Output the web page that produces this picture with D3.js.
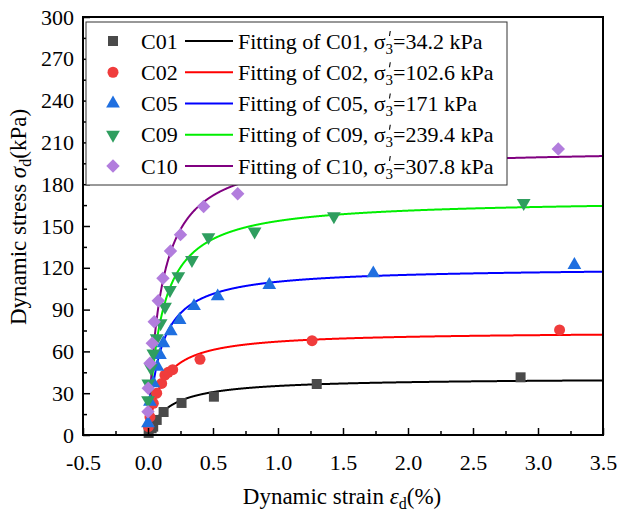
<!DOCTYPE html>
<html>
<head>
<meta charset="utf-8">
<script src="https://cdn.jsdelivr.net/npm/d3@7"></script>
<style>
  html, body { margin: 0; padding: 0; background: #fff; }
  svg { display: block; }
  svg text { font-family: "Liberation Serif", "Times New Roman", serif; fill: #000; }
</style>
</head>
<body>
<svg id="chart" width="618" height="513"></svg>
<script>
// Dynamic stress–strain measurements for each specimen
const seriesNames = ["C01", "C02", "C05", "C09", "C10"];
const confining = ["34.2", "102.6", "171", "239.4", "307.8"];

const strainC01 = [0.005, 0.028, 0.04, 0.067, 0.12, 0.258, 0.507, 1.298, 2.866];
const stressC01 = [1.5, 4.8, 6, 10.8, 16.5, 23.0, 27.5, 36.6, 41.4];

const strainC02 = [0.003, 0.015, 0.041, 0.067, 0.105, 0.13, 0.155, 0.19, 0.40, 1.262, 3.166];
const stressC02 = [6, 13, 22.7, 30, 37, 43, 45, 46.9, 54.3, 67.7, 75.4];

const strainC05 = [0.0, 0.015, 0.041, 0.072, 0.092, 0.118, 0.175, 0.243, 0.354, 0.536, 0.933, 1.733, 3.28];
const stressC05 = [8.4, 23.9, 37.1, 49, 57.4, 65.8, 74.5, 82.5, 92.5, 99.5, 107.7, 116.0, 122.0];

const strainC09 = [0.0, 0.002, 0.023, 0.041, 0.067, 0.097, 0.131, 0.169, 0.233, 0.338, 0.465, 0.82, 1.43, 2.89];
const stressC09 = [25, 37, 48, 58.6, 69.4, 80.2, 92, 104, 114, 125.6, 142, 146, 157, 166.5];

const strainC10 = [0.0, 0.002, 0.015, 0.033, 0.048, 0.079, 0.115, 0.173, 0.25, 0.428, 0.69, 3.156];
const stressC10 = [16.7, 33.5, 51.5, 65.8, 81.3, 96.4, 112.5, 132, 143.8, 164, 173.2, 205.3];

// Hyperbolic fit parameters: sigma = eps / (a + b * eps)
const fitA = [0.00406, 0.00145, 0.000783, 0.0006, 0.00048];
const fitB = [0.02435, 0.01347, 0.008308, 0.00591, 0.004858];

const xTicks = [-0.5, 0.0, 0.5, 1.0, 1.5, 2.0, 2.5, 3.0, 3.5];
const yTicks = [0, 30, 60, 90, 120, 150, 180, 210, 240, 270, 300];

const markerColors = ["#4a4a4a", "#f03c3c", "#1f6fe0", "#2f9e5f", "#b27ddd"];
const lineColors = ["#000000", "#ff0000", "#0000ff", "#00ee00", "#800080"];
const markerShapes = ["square", "circle", "triangleUp", "triangleDown", "diamond"];

const strains = [strainC01, strainC02, strainC05, strainC09, strainC10];
const stresses = [stressC01, stressC02, stressC05, stressC09, stressC10];

const svg = d3.select("#chart");
const plotLeft = 83, plotRight = 603, plotTop = 17, plotBottom = 435;
const serif = "Liberation Serif, Times New Roman, serif";

const x = d3.scaleLinear().domain([-0.5, 3.5]).range([plotLeft, plotRight]);
const y = d3.scaleLinear().domain([0, 300]).range([plotBottom, plotTop]);

function symbolPath(shape) {
  switch (shape) {
    case "square": return d3.symbol(d3.symbolSquare, 100)();
    case "circle": return d3.symbol(d3.symbolCircle, 95)();
    case "triangleUp": return d3.symbol(d3.symbolTriangle, 82)();
    case "triangleDown": return d3.symbol(d3.symbolTriangle, 82)();
    case "diamond": return d3.symbol(d3.symbolSquare, 90)();
  }
}
function symbolRotate(shape) {
  if (shape === "triangleDown") return " rotate(180)";
  if (shape === "diamond") return " rotate(45)";
  return "";
}

const plot = svg.append("g");
const clipId = "plotclip";
svg.append("clipPath").attr("id", clipId)
  .append("rect").attr("x", plotLeft).attr("y", plotTop)
  .attr("width", plotRight - plotLeft).attr("height", plotBottom - plotTop);

// fitted curves
const curveEps = d3.range(0, 3.5001, 0.002);
seriesNames.forEach((name, i) => {
  const pts = curveEps.map(e => [e, e / (fitA[i] + fitB[i] * e)]);
  plot.append("path")
    .attr("clip-path", `url(#${clipId})`)
    .attr("d", d3.line().x(d => x(d[0])).y(d => y(d[1]))(pts))
    .attr("fill", "none")
    .attr("stroke", lineColors[i])
    .attr("stroke-width", 2);
});

// measured points
seriesNames.forEach((name, i) => {
  const shape = markerShapes[i];
  plot.append("g").selectAll("path")
    .data(strains[i].map((e, k) => [e, stresses[i][k]]))
    .join("path")
    .attr("d", symbolPath(shape))
    .attr("transform", d => `translate(${x(d[0])},${y(d[1])})${symbolRotate(shape)}`)
    .attr("fill", markerColors[i]);
});

// axes with inward ticks
const fmtX = v => d3.format(".1f")(v).replace("−", "-");
const xAxis = d3.axisBottom(x).tickValues(xTicks).tickFormat(fmtX)
  .tickSizeInner(-7).tickSizeOuter(0).tickPadding(19);
svg.append("g").attr("transform", `translate(0,${plotBottom})`).call(xAxis);
const xMinor = d3.axisBottom(x).tickValues(d3.range(-0.25, 3.5, 0.5)).tickFormat("")
  .tickSizeInner(-4).tickSizeOuter(0);
svg.append("g").attr("transform", `translate(0,${plotBottom})`).call(xMinor);

const yAxis = d3.axisLeft(y).tickValues(yTicks).tickFormat(d3.format("d"))
  .tickSizeInner(-7).tickSizeOuter(0).tickPadding(9);
svg.append("g").attr("transform", `translate(${plotLeft},0)`).call(yAxis);
const yMinor = d3.axisLeft(y).tickValues(d3.range(15, 300, 30)).tickFormat("")
  .tickSizeInner(-4).tickSizeOuter(0);
svg.append("g").attr("transform", `translate(${plotLeft},0)`).call(yMinor);

svg.selectAll(".domain").remove();
svg.selectAll(".tick line").attr("stroke", "#000").attr("stroke-width", 1.5);
svg.selectAll(".tick text").attr("font-family", serif).attr("font-size", 22).attr("fill", "#000");

// frame
svg.append("rect").attr("x", plotLeft).attr("y", plotTop)
  .attr("width", plotRight - plotLeft).attr("height", plotBottom - plotTop)
  .attr("fill", "none").attr("stroke", "#000").attr("stroke-width", 2);

// legend
const legend = svg.append("g").attr("font-family", serif);
legend.append("rect").attr("x", 86).attr("y", 22).attr("width", 421).attr("height", 163)
  .attr("fill", "#fff").attr("stroke", "#333").attr("stroke-width", 1);
const rowY = d3.scalePoint().domain(seriesNames).range([41, 166]);
seriesNames.forEach((name, i) => {
  const ry = rowY(name);
  const shape = markerShapes[i];
  legend.append("path").attr("d", symbolPath(shape))
    .attr("transform", `translate(113,${ry})${symbolRotate(shape)}`)
    .attr("fill", markerColors[i]);
  legend.append("text").attr("x", 141).attr("y", ry + 7.5).attr("font-size", 22).text(name);
  legend.append("line").attr("x1", 185).attr("x2", 233).attr("y1", ry).attr("y2", ry)
    .attr("stroke", lineColors[i]).attr("stroke-width", 2);
  const prefix = `Fitting of ${name}, σ`;
  const t = legend.append("text").attr("x", 238).attr("y", ry + 7.5).attr("font-size", 22);
  t.append("tspan").text(prefix);
  t.append("tspan").attr("font-size", 15).attr("dy", 5).text("3");
  t.append("tspan").attr("dy", -5).text(`=${confining[i]} kPa`);
  // prime mark stacked above the subscript 3
  const box = t.node().getExtentOfChar(prefix.length);
  const px = box.x + box.width * 0.55;
  legend.append("line")
    .attr("x1", px + 0.6).attr("x2", px - 0.2)
    .attr("y1", ry - 10).attr("y2", ry - 5)
    .attr("stroke", "#000").attr("stroke-width", 1.1);
});

// axis titles
const xt = svg.append("text").attr("x", 342).attr("y", 504).attr("text-anchor", "middle")
  .attr("font-family", serif).attr("font-size", 23);
xt.append("tspan").text("Dynamic strain ");
xt.append("tspan").attr("font-style", "italic").text("ε");
xt.append("tspan").attr("font-size", 16).attr("dy", 5).text("d");
xt.append("tspan").attr("dy", -5).text("(%)");

const yt = svg.append("text").attr("transform", "translate(26,217) rotate(-90)")
  .attr("text-anchor", "middle").attr("font-family", serif).attr("font-size", 23);
yt.append("tspan").text("Dynamic stress ");
yt.append("tspan").attr("font-style", "italic").text("σ");
yt.append("tspan").attr("font-size", 16).attr("dy", 5).text("d");
yt.append("tspan").attr("dy", -5).text("(kPa)");
</script>
</body>
</html>
